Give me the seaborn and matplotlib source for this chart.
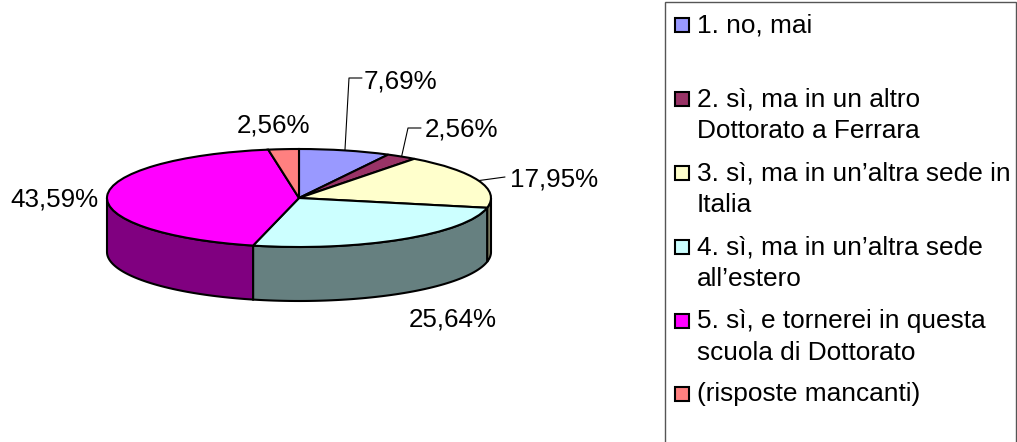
import numpy as np
import matplotlib
matplotlib.use('Agg')
import matplotlib.pyplot as plt
import seaborn as sns
from matplotlib.patches import Rectangle

# values and labels
values = [7.69, 2.56, 17.95, 25.64, 43.59, 2.56]
pct_labels = ['7,69%', '2,56%', '17,95%', '25,64%', '43,59%', '2,56%']
legend_labels = [
    '1. no, mai',
    '2. sì, ma in un altro\nDottorato a Ferrara',
    '3. sì, ma in un’altra sede in\nItalia',
    '4. sì, ma in un’altra sede\nall’estero',
    '5. sì, e tornerei in questa\nscuola di Dottorato',
    '(risposte mancanti)',
]
top_colors = ['#9999FF', '#993366', '#FFFFCC', '#CCFFFF', '#FF00FF', '#FF8080']
side_colors = ['#666699', '#662244', '#808066', '#668080', '#800080', '#AA5555']

sns.set_theme(style='white')
plt.rcParams['font.family'] = ['Liberation Sans', 'DejaVu Sans']

W, H = 1017, 442
CX, CY, RX, RY = 299, 198, 192, 49
DEPTH = 54 / RY
EDGE = 1.5

fig = plt.figure(figsize=(W / 100, H / 100), dpi=100, facecolor='white')

# overlay in pixel coordinates, for the labels and the legend box
px = fig.add_axes([0, 0, 1, 1])
px.set_xlim(0, W)
px.set_ylim(H, 0)
px.axis('off')

# the pie axes are squashed so the unit circle becomes the ellipse
ax = fig.add_axes([(CX - RX) / W, 1 - (CY + RY) / H, 2 * RX / W, 2 * RY / H])

palette = sns.color_palette(top_colors)
ax.pie(values, colors=palette, startangle=90, counterclock=False,
       wedgeprops={'edgecolor': 'black', 'linewidth': EDGE, 'zorder': 3, 'clip_on': False})
ax.set_aspect('auto')
ax.set_xlim(-1, 1)
ax.set_ylim(-1, 1)

# side wall: only the front half of the rim is visible
edges = np.cumsum([0] + values) / sum(values) * 360
for i in range(len(values)):
    a = max(edges[i], 90)
    b = min(edges[i + 1], 270)
    if a >= b:
        continue
    t = np.radians(np.linspace(a, b, 60))
    x = np.sin(t)
    y = np.cos(t)
    ax.fill(np.r_[x, x[::-1]], np.r_[y, y[::-1] - DEPTH], facecolor=side_colors[i],
            edgecolor='black', linewidth=EDGE, clip_on=False, zorder=1)

# data labels
label_x = [364, 425, 510, 409, 10, 237]
label_y = [88, 137, 187, 326, 206, 132]
for s, x, y in zip(pct_labels, label_x, label_y):
    px.text(x, y, s, fontsize=18.7, color='black', va='baseline', ha='left')

# leader lines start at the middle of their slice
mids = np.radians((edges[:-1] + edges[1:]) / 2)
bends = {0: [(349, 78), (362, 78)], 1: [(408, 128), (421, 128)], 2: [(505, 177)]}
for i, pts in bends.items():
    xs = [CX + RX * np.sin(mids[i])] + [p[0] for p in pts]
    ys = [CY - RY * np.cos(mids[i])] + [p[1] for p in pts]
    px.plot(xs, ys, color='black', lw=0.8)

# legend box runs off the bottom of the image
px.add_patch(Rectangle((665, 2), 351, 460, facecolor='white', edgecolor='#555555', lw=1))
first_base = [32, 106, 180, 254, 328, 401]
for label, c, base in zip(legend_labels, palette, first_base):
    px.add_patch(Rectangle((675, base - 14), 14, 14, facecolor=c, edgecolor='black', lw=1.5))
    for j, line in enumerate(label.split('\n')):
        px.text(697, base + j * 31.5, line, fontsize=18.9, color='black', va='baseline', ha='left')

fig.savefig('out.png', dpi=100)
